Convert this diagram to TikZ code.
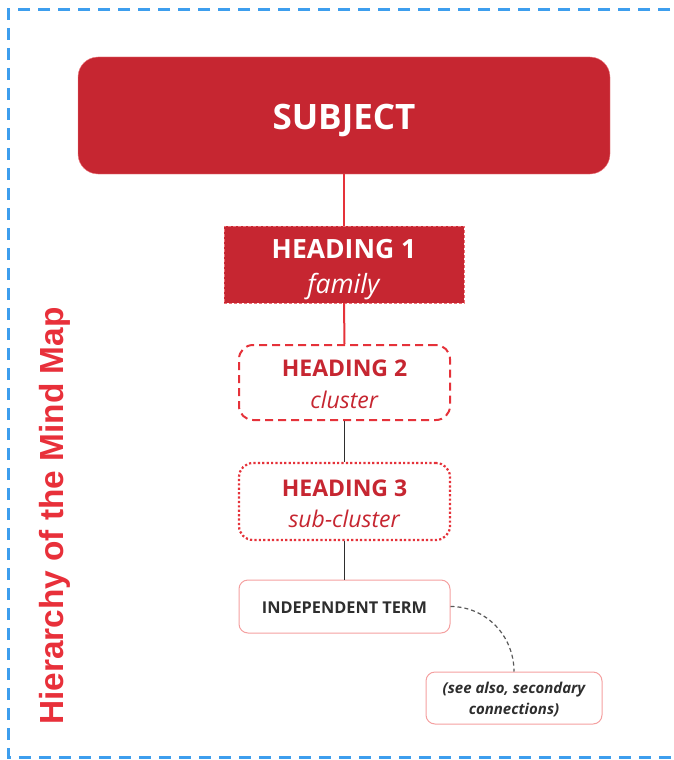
\documentclass[tikz,border=0pt]{standalone}
\usepackage{fontspec}
\setmainfont{Open Sans}
\newfontfamily\arialfont{Liberation Sans}
\usetikzlibrary{positioning}
\definecolor{subjectred}{HTML}{C62631}
\definecolor{linered}{HTML}{E5323A}
\definecolor{titlered}{HTML}{E8303A}
\definecolor{termpink}{HTML}{F4A0A0}
\definecolor{termgray}{HTML}{2E2E2E}
\definecolor{frameblue}{HTML}{3D9EEE}
\newcommand\dropline[1]{\rule{0pt}{#1}}
\begin{document}
\begin{tikzpicture}[x=1pt, y=-1pt, >=latex]
      \tikzset{
  subject/.style={
    rectangle,
    rounded corners=20pt,
    fill=subjectred,
    draw=linered!60,
    minimum width=532pt,
    minimum height=117pt,
    text=white,
    font=\fontsize{35}{42}\selectfont\bfseries
  },
  heading/.style={
    rectangle,
    align=center,
    inner sep=0pt
  },
  heading 1/.style={
    fill=subjectred,
    draw=linered!70,
    densely dashed,
    thin,
    minimum width=240pt,
    minimum height=77pt,
    text=white,
    font=\fontsize{26.5}{35}\selectfont
  },
  heading 2/.style={
    rounded corners=14pt,
    draw=linered,
    dash pattern=on 8pt off 5pt,
    line width=2pt,
    minimum width=211pt,
    minimum height=75pt,
    text=subjectred,
    font=\fontsize{23}{32}\selectfont
  },
  heading 3/.style={
    rounded corners=14pt,
    draw=linered,
    dash pattern=on 2.2pt off 2.2pt,
    line width=2.2pt,
    minimum width=211pt,
    minimum height=77pt,
    text=subjectred,
    font=\fontsize{23}{31}\selectfont
  },
  term/.style={
    rectangle,
    rounded corners=9pt,
    draw=termpink,
    line width=1pt,
    align=center,
    text=termgray
  },
  red link/.style={linered, line width=2pt},
  gray link/.style={termgray, line width=1.2pt},
  see link/.style={termgray!80, line width=1.2pt, dash pattern=on 4pt off 3pt}
}

\useasboundingbox (0,0) rectangle (674,760);

% outer frame, open on the right
\draw [frameblue, line width=3pt, dash pattern=on 12pt off 8pt] (690,10) -| (8,757) -- (690,757);

\node [titlered, rotate=90, font=\arialfont\fontsize{33.4}{40}\selectfont\bfseries] (title) at (55,516) {Hierarchy of the Mind Map};

\node [subject] (subject) at (344,115.5) {\dropline{36pt}SUBJECT};

\node [heading, heading 1] (heading-1) at (344,264.5) {\dropline{29pt}\textbf{HEADING 1}\\\textit{family}};
\node [heading, heading 2] (heading-2) at (344.5,382.5) {\dropline{20pt}\textbf{HEADING 2}\\\textit{cluster}};
\node [heading, heading 3] (heading-3) at (344.5,501.5) {\dropline{21pt}\textbf{HEADING 3}\\\textit{sub-cluster}};

\node [term, minimum width=211pt, minimum height=53pt, font=\fontsize{16.3}{18}\selectfont\bfseries] (term) at (344.5,606.5) {\dropline{14pt}INDEPENDENT TERM};
\node [term, minimum width=176pt, minimum height=52pt, font=\fontsize{15}{21}\selectfont\bfseries\itshape] (see-also) at (514,698) {\dropline{14.5pt}(see also, secondary\\connections)};

\draw [red link] (subject.south) -- (heading-1.north);
\draw [red link] (heading-1.south) -- (heading-2.north);
\draw [gray link, line width=0.8pt] (heading-2.south) -- (heading-3.north);
\draw [gray link] (heading-3.south) -- (term.north);

\draw [see link] (term.east) to[out=0, in=90] (see-also.north);
    \end{tikzpicture}
\end{document}
